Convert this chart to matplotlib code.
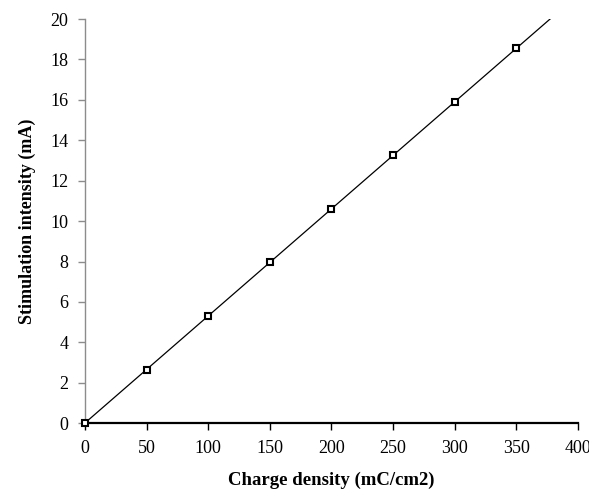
import numpy as np
import matplotlib
matplotlib.use("Agg")
import matplotlib.pyplot as plt

# Data
charge_density = [0, 50, 100, 150, 200, 250, 300, 350]
stim_intensity = [0.0, 2.65, 5.3, 8.0, 10.6, 13.25, 15.9, 18.55]

x_ticks = [0, 50, 100, 150, 200, 250, 300, 350, 400]
y_ticks = [0, 2, 4, 6, 8, 10, 12, 14, 16, 18, 20]

plt.rcParams['font.family'] = ['Liberation Serif', 'DejaVu Serif']

fig = plt.figure(figsize=(5.89, 4.92), dpi=100)
ax = fig.add_axes([0.1443, 0.140, 0.8370, 0.8212])

# linear trendline through the points
slope, intercept = np.polyfit(charge_density, stim_intensity, 1)
xl = np.array([0, 400])
ax.plot(xl, slope * xl + intercept, color='black', lw=0.9, zorder=2)

ax.plot(charge_density, stim_intensity, linestyle='none', marker='s',
        markersize=5, markerfacecolor='white', markeredgecolor='black',
        markeredgewidth=1.5, zorder=3, clip_on=False)

ax.set_xlim(0, 400)
ax.set_ylim(0, 20)
ax.set_xticks(x_ticks)
ax.set_yticks(y_ticks)

for side in ['top', 'right']:
    ax.spines[side].set_visible(False)
ax.spines['left'].set_color('#8c8c8c')
ax.spines['left'].set_linewidth(1.0)
ax.spines['bottom'].set_color('black')
ax.spines['bottom'].set_linewidth(1.6)
ax.spines['bottom'].set_zorder(1)

ax.tick_params(axis='y', direction='out', length=5, width=1.0, color='#8c8c8c',
               labelsize=13, pad=7)
ax.tick_params(axis='x', direction='out', length=5, width=1.0, color='black',
               labelsize=13, pad=7)

ax.set_xlabel('Charge density (mC/cm2)', fontsize=13.5, fontweight='bold', labelpad=11)
ax.set_ylabel('Stimulation intensity (mA)', fontsize=13, fontweight='bold', labelpad=10)

fig.savefig('out.png', dpi=100)
